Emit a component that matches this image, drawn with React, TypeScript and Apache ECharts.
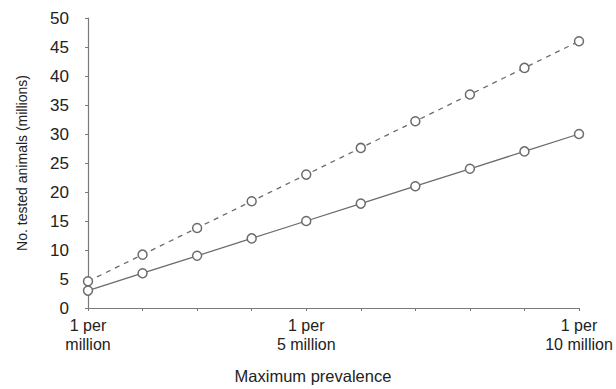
import React, { useEffect, useRef } from "react";
import * as echarts from "echarts";

const xPositions = [1, 2, 3, 4, 5, 6, 7, 8, 9, 10];
const solidValues = [3, 6, 9, 12, 15, 18, 21, 24, 27, 30];
const dashedValues = [4.6, 9.2, 13.8, 18.4, 23, 27.6, 32.2, 36.8, 41.4, 46];
const xTickLabels: Record<number, string> = {
  1: "1 per\nmillion",
  5: "1 per\n5 million",
  10: "1 per\n10 million",
};

export default function App() {
  const ref = useRef<HTMLDivElement>(null);
  useEffect(() => {
    document.body.style.margin = "0";
    if (!ref.current) return;
    const chart = echarts.init(ref.current, undefined, { renderer: "svg" });
    const lineColor = "#6b6b6b";
    const axisColor = "#7a7a7a";
    const font = "Liberation Sans, Arial, sans-serif";
    chart.setOption({
      animation: false,
      backgroundColor: "#ffffff",
      grid: { left: 88, right: 37, top: 18, bottom: 76 },
      xAxis: {
        type: "value",
        min: 1,
        max: 10,
        interval: 1,
        name: "Maximum prevalence",
        nameLocation: "middle",
        nameGap: 59,
        nameTextStyle: {
          color: "#222",
          fontSize: 16.5,
          fontFamily: font,
          padding: [0, 41, 0, 0],
        },
        axisLine: { lineStyle: { color: axisColor, width: 1.2 } },
        axisTick: { show: true, length: 3, lineStyle: { color: axisColor } },
        splitLine: { show: false },
        axisLabel: {
          color: "#222",
          fontSize: 16,
          fontFamily: font,
          lineHeight: 19,
          margin: 8,
          formatter: (v: number) => xTickLabels[v] ?? "",
        },
      },
      yAxis: {
        type: "value",
        min: 0,
        max: 50,
        interval: 5,
        name: "No. tested animals (millions)",
        nameLocation: "middle",
        nameGap: 59,
        nameTextStyle: {
          color: "#222",
          fontSize: 14,
          fontFamily: font,
        },
        axisLine: { show: true, lineStyle: { color: axisColor, width: 1.2 } },
        axisTick: { show: true, length: 3, lineStyle: { color: axisColor } },
        splitLine: { show: false },
        axisLabel: { color: "#222", fontSize: 17, fontFamily: font, margin: 19 },
      },
      series: [
        {
          type: "line",
          data: xPositions.map((x, i) => [x, dashedValues[i]]),
          symbol: "circle",
          symbolSize: 9,
          lineStyle: { color: lineColor, width: 1.3, type: [5, 5] },
          itemStyle: { color: "#fff", borderColor: lineColor, borderWidth: 1.5 },
          z: 3,
        },
        {
          type: "line",
          data: xPositions.map((x, i) => [x, solidValues[i]]),
          symbol: "circle",
          symbolSize: 9,
          lineStyle: { color: lineColor, width: 1.3 },
          itemStyle: { color: "#fff", borderColor: lineColor, borderWidth: 1.5 },
          z: 3,
        },
      ],
    });
    return () => chart.dispose();
  }, []);
  return <div ref={ref} style={{ width: 616, height: 389 }} />;
}
